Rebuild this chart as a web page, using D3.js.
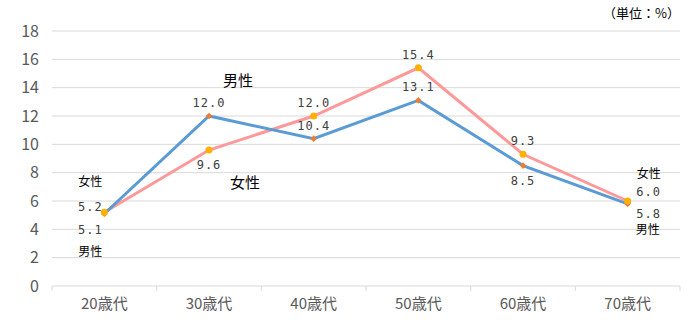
<!DOCTYPE html>
<html>
<head>
<meta charset="utf-8">
<script src="https://cdn.jsdelivr.net/npm/d3@7"></script>
<style>
  body { margin: 0; background: #fff; }
  svg { display: block; }
  .tick-y text, .tick-x text { font-family: "Liberation Sans Narrow", "Noto Sans CJK JP", sans-serif; fill: #595959; }
  .lbl { font-family: "DejaVu Sans Mono", monospace; font-size: 12px; fill: #404040; letter-spacing: 1px; }
  .jp { font-family: "Noto Sans CJK JP", sans-serif; fill: #000; }
</style>
</head>
<body>
<svg id="chart" width="689" height="328"></svg>
<script>
// age groups and rates (%)
const ages = ['20歳代', '30歳代', '40歳代', '50歳代', '60歳代', '70歳代'];
const male = [5.1, 12.0, 10.4, 13.1, 8.5, 5.8];
const female = [5.2, 9.6, 12.0, 15.4, 9.3, 6.0];
const yTicks = [0, 2, 4, 6, 8, 10, 12, 14, 16, 18];

// where each value label sits relative to its point: 'a' above, 'b' below
const malePos = ['b', 'a', 'a', 'a', 'b', 'b'];
const femalePos = ['a', 'b', 'a', 'a', 'a', 'a'];

var svg = d3.select('#chart');

var x = d3.scaleBand()
    .domain(ages)
    .range([52, 680]);

var y = d3.scaleLinear()
    .domain([0, 18])
    .range([286, 31]);

// horizontal grid
svg.append('g')
    .selectAll('line')
    .data(yTicks)
    .enter()
    .append('line')
    .attr('x1', 52)
    .attr('x2', 680)
    .attr('y1', d => y(d))
    .attr('y2', d => y(d))
    .attr('stroke', '#d9d9d9')
    .attr('stroke-width', 1);

// y tick labels
svg.append('g')
    .attr('class', 'tick-y')
    .selectAll('text')
    .data(yTicks)
    .enter()
    .append('text')
    .attr('x', 39)
    .attr('y', d => y(d))
    .attr('dy', '0.36em')
    .attr('text-anchor', 'end')
    .attr('font-size', 16)
    .text(d => d);

// x axis ticks between groups
var bounds = ages.map(d => x(d)).concat([x.range()[1]]);
svg.append('g')
    .selectAll('line')
    .data(bounds)
    .enter()
    .append('line')
    .attr('x1', d => d)
    .attr('x2', d => d)
    .attr('y1', 286)
    .attr('y2', 291)
    .attr('stroke', '#d9d9d9');

svg.append('g')
    .attr('class', 'tick-x')
    .selectAll('text')
    .data(ages)
    .enter()
    .append('text')
    .attr('x', d => x(d) + x.bandwidth() / 2)
    .attr('y', 309)
    .attr('text-anchor', 'middle')
    .attr('font-size', 15)
    .text(d => d);

var cx = (d, i) => x(ages[i]) + x.bandwidth() / 2;

var line = d3.line()
    .x((d, i) => cx(d, i))
    .y(d => y(d));

svg.append('path')
    .datum(female)
    .attr('d', line)
    .attr('fill', 'none')
    .attr('stroke', '#ff9999')
    .attr('stroke-width', 3);

svg.append('path')
    .datum(male)
    .attr('d', line)
    .attr('fill', 'none')
    .attr('stroke', '#5b9bd5')
    .attr('stroke-width', 3);

// male markers: small diamonds (rotated squares)
svg.append('g')
    .selectAll('path')
    .data(male)
    .enter()
    .append('path')
    .attr('transform', (d, i) => 'translate(' + cx(d, i) + ',' + y(d) + ') rotate(45)')
    .attr('d', d3.symbol().type(d3.symbolSquare).size(22))
    .attr('fill', '#ed7d31');

// female markers: circles
svg.append('g')
    .selectAll('circle')
    .data(female)
    .enter()
    .append('circle')
    .attr('cx', (d, i) => cx(d, i))
    .attr('cy', d => y(d))
    .attr('r', 3.5)
    .attr('fill', '#ffb000');

// value labels (first and last group are placed beside the points)
function labels(data, pos) {
    svg.append('g')
        .selectAll('text')
        .data(data)
        .enter()
        .filter((d, i) => i > 0 && i < data.length - 1)
        .append('text')
        .attr('class', 'lbl')
        .attr('x', (d, i) => cx(d, i + 1))
        .attr('y', (d, i) => pos[i + 1] == 'a' ? y(d) - 9 : y(d) + 19)
        .attr('text-anchor', 'middle')
        .text(d => d.toFixed(1));
}
labels(male, malePos);
labels(female, femalePos);

// side labels for 20s and 70s
var side = [
    {t: '女性', x: cx(0, 0) - 14, y: 186, jp: true},
    {t: female[0].toFixed(1), x: cx(0, 0) - 14, y: 211, jp: false},
    {t: male[0].toFixed(1), x: cx(0, 0) - 14, y: 234, jp: false},
    {t: '男性', x: cx(0, 0) - 14, y: 256, jp: true},
    {t: '女性', x: cx(0, 5) + 21, y: 178, jp: true},
    {t: female[5].toFixed(1), x: cx(0, 5) + 21, y: 196, jp: false},
    {t: male[5].toFixed(1), x: cx(0, 5) + 21, y: 218, jp: false},
    {t: '男性', x: cx(0, 5) + 20, y: 234, jp: true}
];
svg.append('g')
    .selectAll('text')
    .data(side)
    .enter()
    .append('text')
    .attr('class', d => d.jp ? 'jp' : 'lbl')
    .attr('x', d => d.x)
    .attr('y', d => d.y)
    .attr('text-anchor', 'middle')
    .attr('font-size', d => d.jp ? 12 : null)
    .text(d => d.t);

// series names
svg.append('text')
    .attr('class', 'jp')
    .attr('x', 238)
    .attr('y', 86)
    .attr('text-anchor', 'middle')
    .attr('font-size', 15)
    .text('男性');

svg.append('text')
    .attr('class', 'jp')
    .attr('x', 245)
    .attr('y', 188)
    .attr('text-anchor', 'middle')
    .attr('font-size', 15)
    .text('女性');

svg.append('text')
    .attr('class', 'jp')
    .attr('x', 680)
    .attr('y', 18)
    .attr('text-anchor', 'end')
    .attr('font-size', 13)
    .text('（単位：%）');
</script>
</body>
</html>
